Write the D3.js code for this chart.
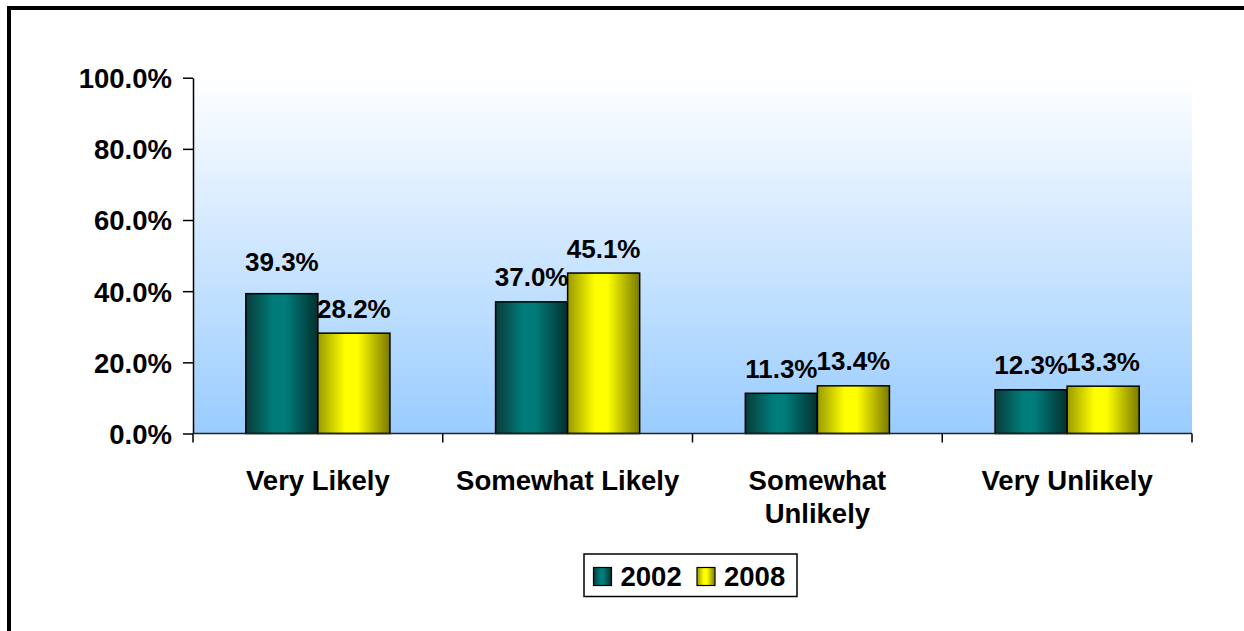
<!DOCTYPE html>
<html><head><meta charset="utf-8">
<script src="https://cdn.jsdelivr.net/npm/d3@7"></script>
<style>
html,body{margin:0;padding:0;background:#fff;}
svg{display:block;}
text{font-family:"Liberation Sans",Arial,sans-serif;font-weight:bold;fill:#000;}
</style></head>
<body>
<svg id="chart" width="1244" height="631"></svg>
<script>
const categories = [["Very Likely"], ["Somewhat Likely"], ["Somewhat", "Unlikely"], ["Very Unlikely"]];
const seriesNames = ["2002", "2008"];
const values2002 = [39.3, 37.0, 11.3, 12.3];
const values2008 = [28.2, 45.1, 13.4, 13.3];
const yTicks = [0, 20, 40, 60, 80, 100];

(function(){
const svg = d3.select("#chart");
const W = 1244, H = 631;
const mLeft = 193, mRight = 1192, mTop = 77.7, mBottom = 433.5;

const defs = svg.append("defs");
const bg = defs.append("linearGradient").attr("id","bg").attr("x1",0).attr("y1",0).attr("x2",0).attr("y2",1);
bg.append("stop").attr("offset","0%").attr("stop-color","#ffffff");
bg.append("stop").attr("offset","100%").attr("stop-color","#99ccff");

function barGrad(id, edgeL, mid, edgeR) {
  const g = defs.append("linearGradient").attr("id", id).attr("x1",0).attr("y1",0).attr("x2",1).attr("y2",0);
  g.append("stop").attr("offset","0%").attr("stop-color",edgeL);
  g.append("stop").attr("offset","38%").attr("stop-color",mid);
  g.append("stop").attr("offset","55%").attr("stop-color",mid);
  g.append("stop").attr("offset","100%").attr("stop-color",edgeR);
}
barGrad("g2002", "#093b39", "#007c7a", "#03302e");
barGrad("g2008", "#9a9a00", "#ffff00", "#7a7a00");
const fills = ["url(#g2002)", "url(#g2008)"];

// outer border
svg.append("rect").attr("x",9).attr("y",8).attr("width",W+20).attr("height",H+20)
  .attr("fill","none").attr("stroke","#000").attr("stroke-width",4);

// plot background
svg.append("rect").attr("x",mLeft).attr("y",mTop).attr("width",mRight-mLeft).attr("height",mBottom-mTop)
  .attr("fill","url(#bg)");

const x0 = d3.scaleBand().domain(d3.range(categories.length)).range([mLeft, mRight]).paddingInner(0).paddingOuter(0);
const x1 = d3.scaleBand().domain(seriesNames).range([0, x0.bandwidth()]).paddingInner(0).paddingOuter(0.7333);
const y = d3.scaleLinear().domain([0, 100]).range([mBottom, mTop]);

const labelGap = (i, s) => (i === 0 && s === 0) ? 22.5 : 15.5;

const groups = svg.append("g").selectAll("g").data(categories).join("g")
  .attr("transform", (d,i) => `translate(${x0(i)},0)`);

const data = categories.map((c,i) => [values2002[i], values2008[i]]);
groups.each(function(c, i) {
  const g = d3.select(this);
  data[i].forEach((v, s) => {
    const bx = x1(seriesNames[s]);
    const bw = x1.bandwidth();
    g.append("rect").attr("x", bx).attr("y", y(v)).attr("width", bw).attr("height", mBottom - y(v))
      .attr("fill", fills[s]).attr("stroke", "#000").attr("stroke-width", 1.5);
  });
  data[i].forEach((v, s) => {
    const bx = x1(seriesNames[s]);
    const bw = x1.bandwidth();
    g.append("text").attr("x", bx + bw/2).attr("y", y(v) - labelGap(i, s))
      .attr("text-anchor","middle").attr("font-size", 26).text(v.toFixed(1) + "%");
  });
});

// y axis
const yAxis = d3.axisLeft(y).tickValues(yTicks).tickSize(10).tickSizeOuter(0).tickPadding(11)
  .tickFormat(d => d.toFixed(1) + "%");
const ya = svg.append("g").attr("transform", `translate(${mLeft},0)`).call(yAxis);
ya.select(".domain").attr("stroke","#000").attr("stroke-width",1.5);
ya.selectAll(".tick line").attr("stroke","#000").attr("stroke-width",1.5);
ya.selectAll(".tick text").attr("font-size", 27.5).attr("font-family","Liberation Sans, Arial, sans-serif")
  .attr("font-weight","bold").attr("fill","#000").attr("dy","0.36em");

// x axis line and ticks
const xTickPos = d3.range(categories.length + 1).map(i => mLeft + i * x0.bandwidth());
svg.append("line").attr("x1", mLeft).attr("x2", mRight).attr("y1", mBottom).attr("y2", mBottom)
  .attr("stroke","#222").attr("stroke-width",1.5);
svg.append("g").selectAll("line").data(xTickPos).join("line")
  .attr("x1", d => d).attr("x2", d => d).attr("y1", mBottom).attr("y2", mBottom + 9)
  .attr("stroke","#000").attr("stroke-width",1.5);

// category labels
svg.append("g").selectAll("text").data(categories).join("text")
  .attr("x", (d,i) => x0(i) + x0.bandwidth()/2)
  .attr("y", 489.5)
  .attr("text-anchor","middle").attr("font-size", 27.5)
  .each(function(lines) {
    const t = d3.select(this);
    lines.forEach((l, k) => t.append("tspan").attr("x", t.attr("x")).attr("dy", k === 0 ? 0 : 33.5).text(l));
  });

// legend
const lg = svg.append("g");
lg.append("rect").attr("x",584).attr("y",554).attr("width",213).attr("height",42.5)
  .attr("fill","#fff").attr("stroke","#000").attr("stroke-width",1.5);
const legX = [593.5, 697];
seriesNames.forEach((s, i) => {
  lg.append("rect").attr("x", legX[i]).attr("y", 567.5).attr("width", 18).attr("height", 18)
    .attr("fill", fills[i]).attr("stroke","#000").attr("stroke-width",1.2);
  lg.append("text").attr("x", legX[i] + 27).attr("y", 586).attr("font-size", 27.5).text(s);
});
})();
</script>
</body></html>
